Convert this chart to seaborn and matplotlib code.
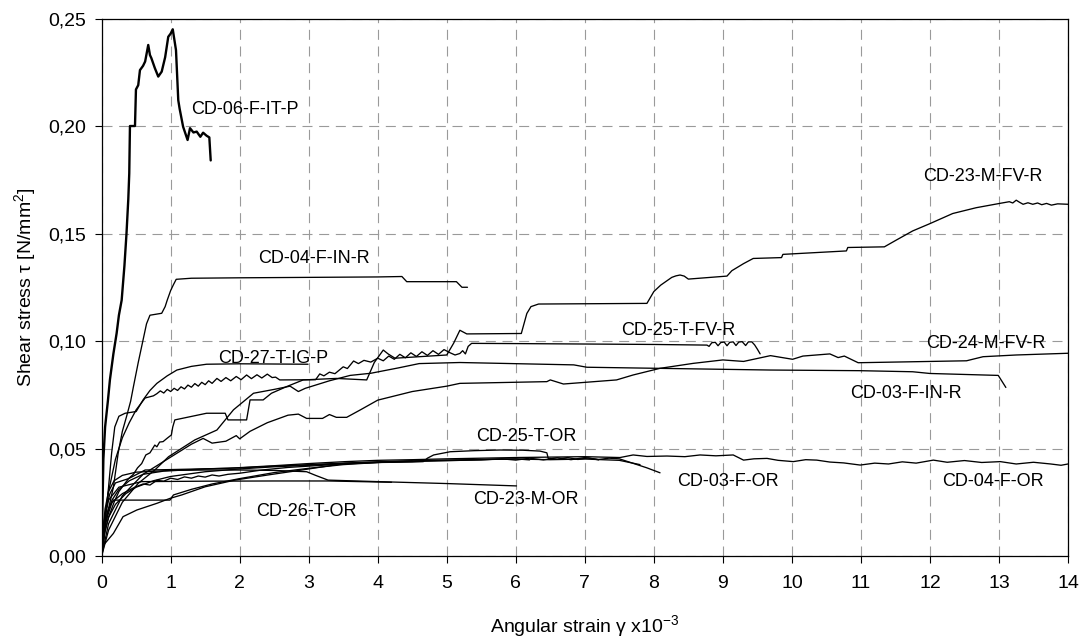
import numpy as np
import pandas as pd
import matplotlib
matplotlib.use("Agg")
import matplotlib.pyplot as plt
import seaborn as sns

# ---------------- data ----------------
cd06_f_it_p = [(0, 0), (0.01, 0.02), (0.025, 0.045), (0.05, 0.06), (0.09, 0.072), (0.12, 0.082),
               (0.17, 0.094), (0.217, 0.1036), (0.25, 0.112), (0.29, 0.119), (0.33, 0.135),
               (0.36, 0.15), (0.386, 0.166), (0.40, 0.178), (0.41, 0.20), (0.483, 0.20),
               (0.497, 0.217), (0.53, 0.219), (0.555, 0.226), (0.60, 0.228), (0.63, 0.230),
               (0.675, 0.2377), (0.70, 0.233), (0.72, 0.2316), (0.77, 0.227), (0.82, 0.223),
               (0.87, 0.2253), (0.92, 0.232), (0.965, 0.2415), (1.0, 0.243), (1.03, 0.245),
               (1.077, 0.2353), (1.11, 0.212), (1.13, 0.208), (1.18, 0.1997), (1.245, 0.1935),
               (1.28, 0.199), (1.33, 0.197), (1.377, 0.1974), (1.43, 0.195), (1.47, 0.1969),
               (1.52, 0.1955), (1.56, 0.1947), (1.58, 0.184)]

cd04_f_in_r = [(0, 0), (0.04, 0.012), (0.1, 0.022), (0.17, 0.032), (0.24, 0.048), (0.3, 0.058),
               (0.36, 0.0648), (0.42, 0.072), (0.46, 0.0787), (0.53, 0.09), (0.6, 0.1005),
               (0.65, 0.108), (0.70, 0.112), (0.87, 0.1129), (0.92, 0.116), (0.95, 0.119),
               (1.0, 0.1235), (1.04, 0.1262), (1.08, 0.1287), (1.3, 0.1292), (2.0, 0.1294),
               (3.0, 0.1296), (4.0, 0.1298), (4.35, 0.13), (4.42, 0.1276), (5.14, 0.1276),
               (5.22, 0.125), (5.3, 0.125)]

cd27_t_ig_p = [(0, 0), (0.05, 0.0167), (0.1, 0.032), (0.145, 0.048), (0.19, 0.06), (0.25, 0.065),
               (0.34, 0.0664), (0.5, 0.0672), (0.6, 0.0726), (0.7, 0.077), (0.8, 0.0803),
               (0.95, 0.0838), (1.09, 0.0865), (1.3, 0.0882), (1.52, 0.0892), (2.0, 0.0894),
               (2.5, 0.0893), (2.99, 0.0892)]

cd25_t_fv_r = [(0, 0), (0.04, 0.015), (0.1, 0.03), (0.2, 0.045), (0.3, 0.055), (0.4, 0.062),
               (0.5, 0.068), (0.63, 0.0735), (0.75, 0.0745), (0.8, 0.0755), (0.85, 0.0768),
               (0.9, 0.0758), (0.95, 0.0775), (1.0, 0.0765), (1.05, 0.078), (1.1, 0.077),
               (1.15, 0.0787), (1.2, 0.0777), (1.25, 0.0795), (1.3, 0.0785), (1.35, 0.0802),
               (1.4, 0.079), (1.45, 0.0808), (1.5, 0.0797), (1.55, 0.0815), (1.6, 0.0803),
               (1.67, 0.0826), (1.73, 0.0812), (1.8, 0.083), (1.87, 0.0815), (1.95, 0.0835),
               (2.02, 0.082), (2.1, 0.0842), (2.17, 0.0825), (2.25, 0.0843), (2.32, 0.0828),
               (2.4, 0.0846), (2.47, 0.083), (2.52, 0.0832), (2.58, 0.0819), (3.1, 0.082),
               (3.16, 0.0847), (3.22, 0.0838), (3.3, 0.0855), (3.38, 0.0848), (3.5, 0.088),
               (3.56, 0.0872), (3.65, 0.0907), (3.72, 0.0895), (3.8, 0.091), (3.9, 0.0902),
               (4.0, 0.092), (4.08, 0.0908), (4.16, 0.093), (4.24, 0.0915), (4.32, 0.0938),
               (4.4, 0.0922), (4.48, 0.0945), (4.56, 0.0928), (4.64, 0.095), (4.72, 0.0933),
               (4.8, 0.0955), (4.88, 0.0938), (4.96, 0.096), (5.05, 0.0945), (5.12, 0.0935),
               (5.19, 0.0942), (5.23, 0.0955), (5.27, 0.094), (5.31, 0.0975), (5.36, 0.0989),
               (6.0, 0.0988), (7.0, 0.0986), (8.0, 0.0984), (8.77, 0.0981), (8.8, 0.0975),
               (8.84, 0.0992), (8.89, 0.0994), (8.93, 0.0978), (8.97, 0.0993), (9.02, 0.0995),
               (9.06, 0.0978), (9.1, 0.0994), (9.15, 0.0996), (9.19, 0.0979), (9.23, 0.0995),
               (9.28, 0.0997), (9.33, 0.0979), (9.37, 0.0996), (9.42, 0.0996), (9.46, 0.0982),
               (9.5, 0.0962), (9.54, 0.094)]

cd23_m_fv_r = [(0, 0), (0.05, 0.012), (0.1, 0.018), (0.18, 0.025), (0.25, 0.03), (0.32, 0.033),
               (0.39, 0.036), (0.46, 0.038), (0.52, 0.041), (0.58, 0.043), (0.64, 0.047),
               (0.7, 0.048), (0.77, 0.0516), (0.8, 0.0508), (0.84, 0.053), (0.89, 0.0532),
               (0.95, 0.0548), (1.01, 0.0563), (1.03, 0.06), (1.06, 0.0633), (1.52, 0.0664),
               (1.79, 0.0664), (1.83, 0.0633), (2.1, 0.0633), (2.15, 0.0726), (2.34, 0.0726),
               (2.46, 0.0757), (2.68, 0.0788), (2.92, 0.0819), (3.4, 0.0826), (3.84, 0.0819),
               (3.95, 0.09), (4.08, 0.0958), (4.15, 0.094), (4.25, 0.092), (5.0, 0.0935),
               (5.1, 0.099), (5.19, 0.105), (5.29, 0.1033), (6.08, 0.1035), (6.16, 0.1128),
               (6.22, 0.116), (6.33, 0.1172), (7.90, 0.1175), (8.0, 0.123), (8.1, 0.126),
               (8.26, 0.1296), (8.32, 0.1303), (8.38, 0.1307), (8.44, 0.1302), (8.5, 0.1288),
               (9.06, 0.1302), (9.13, 0.1327), (9.3, 0.136), (9.44, 0.1384), (9.85, 0.1388),
               (9.87, 0.1403), (10.79, 0.1419), (10.81, 0.1435), (11.34, 0.1438),
               (11.51, 0.1469), (11.75, 0.1512), (12.0, 0.1546), (12.33, 0.1593),
               (12.67, 0.162), (13.01, 0.164), (13.15, 0.1648), (13.2, 0.1642),
               (13.25, 0.1655), (13.3, 0.1645), (13.35, 0.1636), (13.42, 0.1643),
               (13.49, 0.1636), (13.56, 0.1642), (13.62, 0.1634), (13.69, 0.164),
               (13.76, 0.1632), (13.85, 0.1638), (14.0, 0.1636)]

cd24_m_fv_r = [(0, 0), (0.1, 0.015), (0.3, 0.028), (0.6, 0.038), (1.0, 0.046), (1.3, 0.052),
               (1.47, 0.0547), (1.6, 0.0525), (1.8, 0.0534), (1.95, 0.056), (2.0, 0.0545),
               (2.15, 0.058), (2.4, 0.062), (2.7, 0.0655), (2.85, 0.066), (2.97, 0.064),
               (3.2, 0.064), (3.3, 0.0658), (3.4, 0.0645), (3.55, 0.0645), (3.75, 0.068),
               (4.0, 0.0725), (4.5, 0.0765), (5.0, 0.079), (5.19, 0.0803), (6.45, 0.0811),
               (6.5, 0.0819), (6.69, 0.080), (7.46, 0.0819), (7.7, 0.0842), (8.09, 0.0873),
               (8.57, 0.0896), (9.0, 0.0912), (9.3, 0.0905), (9.69, 0.0932), (10.01, 0.0915),
               (10.16, 0.093), (10.55, 0.094), (10.67, 0.0923), (10.76, 0.093),
               (10.96, 0.0899), (12.53, 0.0908), (12.77, 0.0927), (13.25, 0.0935),
               (14.0, 0.0943)]

cd03_f_in_r = [(0, 0), (0.1, 0.012), (0.3, 0.025), (0.53, 0.0338), (0.77, 0.04), (0.97, 0.0462),
               (1.35, 0.054), (1.67, 0.0586), (1.91, 0.068), (2.2, 0.0757), (2.5, 0.0775),
               (2.73, 0.079), (2.85, 0.0765), (2.95, 0.078), (3.3, 0.0815), (3.6, 0.084),
               (3.9, 0.085), (4.3, 0.0875), (4.6, 0.0895), (5.19, 0.090), (6.84, 0.0889),
               (7.03, 0.0878), (9.69, 0.0865), (10.98, 0.0862), (11.75, 0.0857),
               (12.0, 0.0849), (12.99, 0.084), (13.1, 0.0784)]

cd25_t_or = [(0, 0), (0.04, 0.01), (0.1, 0.018), (0.2, 0.024), (0.35, 0.029), (0.5, 0.032),
             (0.75, 0.035), (1.0, 0.037), (1.5, 0.0392), (2.0, 0.0405), (2.5, 0.0415),
             (3.0, 0.0422), (3.5, 0.043), (4.0, 0.0435), (4.5, 0.0437), (4.66, 0.0439),
             (4.72, 0.0455), (4.81, 0.047), (5.05, 0.0485), (5.4, 0.049), (5.77, 0.0493),
             (6.1, 0.0492), (6.35, 0.0488), (6.45, 0.048), (6.47, 0.0454), (6.6, 0.045),
             (6.75, 0.0458), (6.9, 0.0449), (7.05, 0.0456), (7.2, 0.0447)]

cd03_f_or = [(0, 0), (0.03, 0.012), (0.08, 0.02), (0.15, 0.026), (0.25, 0.031), (0.4, 0.035),
             (0.6, 0.038), (0.9, 0.0395), (1.5, 0.0405), (2.0, 0.041), (2.5, 0.0418),
             (3.0, 0.0425), (3.5, 0.0432), (4.0, 0.0438), (4.5, 0.0442), (5.0, 0.0445),
             (5.5, 0.0447), (5.8, 0.0452), (6.0, 0.0446), (6.2, 0.0455), (6.4, 0.0447),
             (6.6, 0.0457), (6.8, 0.0448), (7.0, 0.0458), (7.2, 0.0449), (7.35, 0.0455),
             (7.5, 0.0452), (7.7, 0.0431), (7.9, 0.041), (8.09, 0.0387)]

cd04_f_or = [(0, 0), (0.02, 0.012), (0.06, 0.022), (0.12, 0.029), (0.2, 0.034), (0.39, 0.036),
             (0.63, 0.04), (1.0, 0.0402), (1.83, 0.0408), (2.5, 0.042), (3.0, 0.043),
             (3.53, 0.0439), (4.0, 0.0445), (4.5, 0.0448), (5.0, 0.0452), (5.5, 0.0455),
             (6.0, 0.0458), (6.5, 0.046), (7.0, 0.0462), (7.51, 0.0458), (7.7, 0.047),
             (7.9, 0.0463), (8.19, 0.0465), (8.45, 0.0462), (8.67, 0.047), (8.9, 0.0466),
             (9.15, 0.047), (9.3, 0.0446), (9.45, 0.0452), (9.64, 0.0454), (9.8, 0.0445),
             (10.02, 0.0439), (10.2, 0.0448), (10.36, 0.0446), (10.55, 0.0437),
             (10.75, 0.0433), (10.99, 0.0423), (11.2, 0.0432), (11.4, 0.0428),
             (11.6, 0.0438), (11.8, 0.0432), (12.05, 0.0446), (12.25, 0.0436),
             (12.5, 0.0444), (12.75, 0.0435), (13.02, 0.0439), (13.25, 0.0428),
             (13.5, 0.0436), (13.75, 0.0428), (13.9, 0.0422), (14.0, 0.0428)]

cd23_m_or = [(0, 0), (0.02, 0.012), (0.05, 0.022), (0.1, 0.03), (0.18, 0.035), (0.3, 0.0375),
             (0.5, 0.039), (1.0, 0.0398), (1.5, 0.04), (2.0, 0.04), (2.5, 0.0398),
             (2.97, 0.0392), (3.1, 0.0375), (3.28, 0.0353), (4.0, 0.0346), (5.0, 0.0337),
             (6.01, 0.0326)]

cd26_t_or = [(0, 0.004), (0.17, 0.0105), (0.31, 0.0183), (0.51, 0.0214), (0.8, 0.0245),
             (0.99, 0.0268), (1.16, 0.0284), (1.5, 0.0322), (1.93, 0.0353), (2.41, 0.0377),
             (2.9, 0.04), (3.53, 0.0431), (4.0, 0.0437), (4.5, 0.0442)]

extra_flat = [(0, 0), (0.03, 0.015), (0.1, 0.026), (0.25, 0.032), (0.58, 0.0346),
              (1.5, 0.0348), (2.5, 0.0349), (3.28, 0.0349), (4.2, 0.0343)]

extra_step = [(0, 0), (0.05, 0.015), (0.1, 0.022), (0.17, 0.026), (0.99, 0.026),
              (1.04, 0.0284), (1.3, 0.031), (1.6, 0.0335), (2.0, 0.036), (2.5, 0.0388),
              (3.0, 0.0408), (3.5, 0.0425), (4.0, 0.0435), (4.5, 0.0442), (5.0, 0.0446),
              (5.5, 0.0449), (6.0, 0.0451), (6.5, 0.0448), (7.0, 0.0451), (7.5, 0.0445),
              (7.8, 0.0425)]

extra_wavy = [(0, 0), (0.05, 0.015), (0.15, 0.025), (0.3, 0.029), (0.48, 0.032), (0.6, 0.0335),
              (0.7, 0.033), (0.8, 0.0352), (0.9, 0.0348), (1.0, 0.0362), (1.1, 0.0356),
              (1.2, 0.0368), (1.3, 0.0362), (1.4, 0.0372), (1.5, 0.0367), (1.6, 0.0377),
              (1.7, 0.0372), (1.83, 0.038), (2.0, 0.0385), (2.32, 0.04), (2.7, 0.0412),
              (3.0, 0.0418), (3.5, 0.0428), (4.0, 0.0435), (4.5, 0.044), (5.0, 0.0443),
              (5.5, 0.0448), (6.0, 0.0452), (6.2, 0.0447)]

label_texts = ["CD-06-F-IT-P", "CD-04-F-IN-R", "CD-27-T-IG-P", "CD-25-T-FV-R", "CD-23-M-FV-R",
               "CD-24-M-FV-R", "CD-03-F-IN-R", "CD-25-T-OR", "CD-23-M-OR", "CD-03-F-OR",
               "CD-04-F-OR", "CD-26-T-OR"]
label_x = [2.08, 3.08, 2.48, 8.35, 12.76, 12.81, 11.65, 6.15, 6.15, 9.07, 12.91, 2.97]
label_y = [0.2078, 0.1385, 0.092, 0.1051, 0.1764, 0.0989, 0.0757, 0.0555, 0.0264, 0.0346,
           0.0346, 0.0206]

x_ticks = list(range(0, 15))
x_tick_labels = [str(v) for v in x_ticks]
y_ticks = [0.0, 0.05, 0.10, 0.15, 0.20, 0.25]
y_tick_labels = ["0,00", "0,05", "0,10", "0,15", "0,20", "0,25"]

curves = [cd06_f_it_p, cd04_f_in_r, cd27_t_ig_p, cd25_t_fv_r, cd23_m_fv_r, cd24_m_fv_r,
          cd03_f_in_r, cd25_t_or, cd03_f_or, cd04_f_or, cd23_m_or, cd26_t_or,
          extra_flat, extra_step, extra_wavy]
thick = [True] + [False] * (len(curves) - 1)

# ---------------- style ----------------
sns.set_theme(style="white")
plt.rcParams['font.family'] = ['Liberation Sans', 'DejaVu Sans']
plt.rcParams['mathtext.fontset'] = 'custom'
plt.rcParams['mathtext.rm'] = 'Liberation Sans'
plt.rcParams['mathtext.it'] = 'Liberation Sans:italic'
plt.rcParams['mathtext.default'] = 'regular'

fig = plt.figure(figsize=(10.86, 6.41), dpi=100)
ax = fig.add_axes([0.0936, 0.1326, 0.8898, 0.8385])

for pts, tk in zip(curves, thick):
    df = pd.DataFrame(pts, columns=["x", "y"])
    sns.lineplot(data=df, x="x", y="y", ax=ax, color="black",
                 linewidth=1.7 if tk else 0.95, sort=False, estimator=None, legend=False)

for t, lx, ly in zip(label_texts, label_x, label_y):
    ax.text(lx, ly, t, ha="center", va="center", fontsize=13, color="black")

ax.set_xlim(0, 14)
ax.set_ylim(0, 0.25)
ax.set_xticks(x_ticks, labels=x_tick_labels)
ax.set_yticks(y_ticks, labels=y_tick_labels)
ax.grid(True, color="#9a9a9a", linewidth=0.8, linestyle=(0, (9, 6)))
ax.set_axisbelow(True)
for s in ax.spines.values():
    s.set_color("black")
    s.set_linewidth(0.9)
ax.tick_params(axis="both", which="major", direction="out", length=5, width=0.8,
               color="black", labelsize=14, labelcolor="black")
ax.tick_params(axis="x", pad=9, bottom=True)
ax.tick_params(axis="y", pad=6, left=True)

ax.set_xlabel("Angular strain γ x10$^{-3}$", fontsize=14, color="black", labelpad=15)
ax.set_ylabel("Shear stress τ [N/mm$^{2}$]", fontsize=14, color="black")
ax.yaxis.set_label_coords(-0.066, 0.5)

fig.savefig("out.png", dpi=100)
